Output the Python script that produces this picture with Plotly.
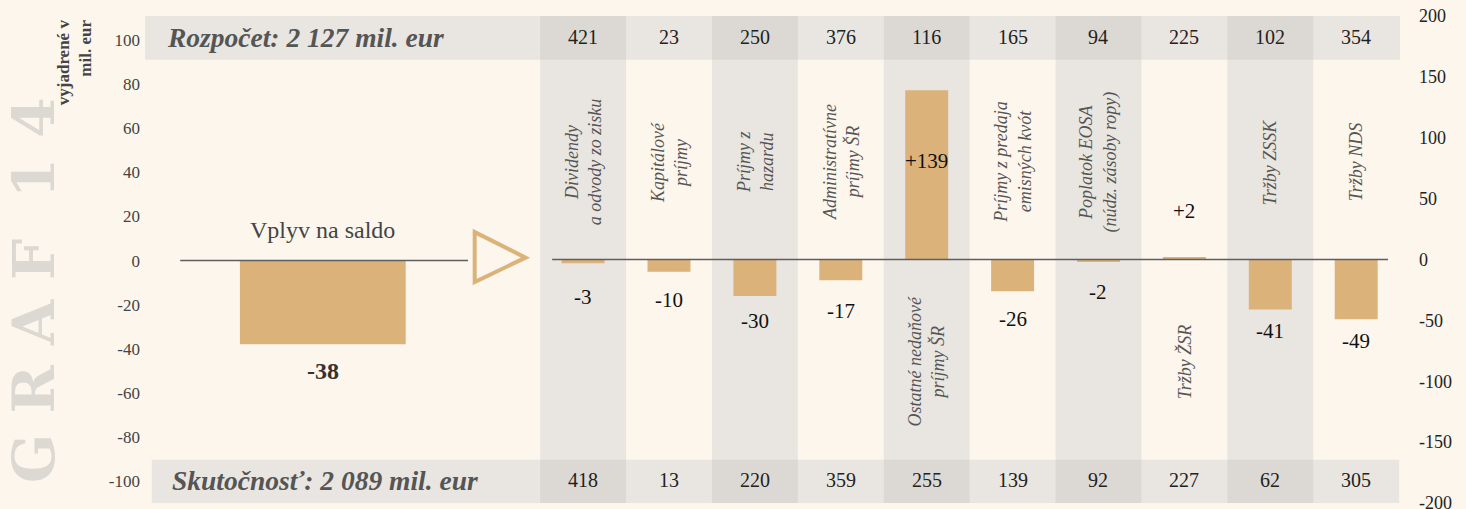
import plotly.graph_objects as go

# ---------------- data ----------------
categories = [
    "Dividendy<br>a odvody zo zisku",
    "Kapitálové<br>príjmy",
    "Príjmy z<br>hazardu",
    "Administratívne<br>príjmy ŠR",
    "Ostatné nedaňové<br>príjmy ŠR",
    "Príjmy z predaja<br>emisných kvót",
    "Poplatok EOSA<br>(núdz. zásoby ropy)",
    "Tržby ŽSR",
    "Tržby ZSSK",
    "Tržby NDS",
]
budget = [421, 23, 250, 376, 116, 165, 94, 225, 102, 354]
actual = [418, 13, 220, 359, 255, 139, 92, 227, 62, 305]
impact = [-3, -10, -30, -17, 139, -26, -2, 2, -41, -49]
saldo_value = -38
budget_title = "Rozpočet: 2 127 mil. eur"
actual_title = "Skutočnosť: 2 089 mil. eur"
saldo_label = "Vplyv na saldo"
left_ticks = [-100, -80, -60, -40, -20, 0, 20, 40, 60, 80, 100]
right_ticks = [-200, -150, -100, -50, 0, 50, 100, 150, 200]

# ---------------- style / layout constants ----------------
BG = "#FCF6ED"
SHADE = "#E9E5E0"
SHADE_DARK = "#DCD9D4"
BAR = "#DBB279"
FONT = "Liberation Serif"
SALDO_X = -3.03
SALDO_W = 1.93
X_RANGE = [-5.10, 9.51]
LABEL_PX = [34, 28, 25, 31, 71, 28, 30, -46, 22, 22]  # px below bar end (pos = down)

x_pos = list(range(len(categories)))

fig = go.Figure()

fig.add_trace(go.Bar(
    x=[SALDO_X], y=[saldo_value], width=[SALDO_W],
    marker=dict(color=BAR, line=dict(width=0)), yaxis="y",
    hoverinfo="skip", showlegend=False,
))
fig.add_trace(go.Bar(
    x=x_pos, y=impact, width=0.5,
    marker=dict(color=BAR, line=dict(width=0)), yaxis="y2",
    hoverinfo="skip", showlegend=False,
))

shapes = []
for i in x_pos:
    if i % 2 == 0:
        shapes.append(dict(type="rect", xref="x", yref="paper", x0=i - 0.5, x1=i + 0.5,
                           y0=0, y1=1, fillcolor=SHADE, line_width=0, layer="below"))
shapes.append(dict(type="rect", xref="paper", yref="y2", x0=0, x1=1, y0=164, y1=200,
                   fillcolor=SHADE, line_width=0, layer="below"))
shapes.append(dict(type="rect", xref="x", yref="y2", x0=-5.02, x1=9.5, y0=-200, y1=-164.5,
                   fillcolor=SHADE, line_width=0, layer="below"))
for i in x_pos:
    if i % 2 == 0:
        shapes.append(dict(type="rect", xref="x", yref="y2", x0=i - 0.5, x1=i + 0.5,
                           y0=164, y1=200, fillcolor=SHADE_DARK, line_width=0, layer="below"))
        shapes.append(dict(type="rect", xref="x", yref="y2", x0=i - 0.5, x1=i + 0.5,
                           y0=-200, y1=-164.5, fillcolor=SHADE_DARK, line_width=0, layer="below"))
shapes.append(dict(type="line", xref="x", yref="y", x0=-4.69, x1=-1.34, y0=0, y1=0,
                   line=dict(color="#5E5E5E", width=1.5)))
shapes.append(dict(type="line", xref="x", yref="y2", x0=-0.36, x1=9.37, y0=0, y1=0,
                   line=dict(color="#5E5E5E", width=1.5)))
shapes.append(dict(type="path", xref="x", yref="y2",
                   path="M -1.262,22.5 L -1.262,-18.5 L -0.67,1.5 Z",
                   line=dict(color=BAR, width=4), fillcolor="rgba(0,0,0,0)"))

ann = []
ann.append(dict(x=-4.87, y=182.5, xref="x", yref="y2", text="<b><i>%s</i></b>" % budget_title,
                xanchor="left", yanchor="middle", showarrow=False,
                font=dict(family=FONT, size=27.5, color="#555555")))
ann.append(dict(x=-4.81, y=-181.5, xref="x", yref="y2", text="<b><i>%s</i></b>" % actual_title,
                xanchor="left", yanchor="middle", showarrow=False,
                font=dict(family=FONT, size=27.5, color="#555555")))
for i, (b, a) in enumerate(zip(budget, actual)):
    ann.append(dict(x=i, y=183, xref="x", yref="y2", text=str(b), showarrow=False,
                    xanchor="center", yanchor="middle",
                    font=dict(family=FONT, size=20, color="#222222")))
    ann.append(dict(x=i, y=-181, xref="x", yref="y2", text=str(a), showarrow=False,
                    xanchor="center", yanchor="middle",
                    font=dict(family=FONT, size=20, color="#222222")))
for i, (v, c) in enumerate(zip(impact, categories)):
    txt = ("+%d" % v) if v > 0 else str(v)
    ann.append(dict(x=i, y=v, xref="x", yref="y2", text=txt, showarrow=False,
                    xanchor="center", yanchor="middle", yshift=-LABEL_PX[i],
                    font=dict(family=FONT, size=21, color="#111111")))
    ann.append(dict(x=i, y=(-84 if v > 0 else 80), xref="x", yref="y2", text="<i>%s</i>" % c,
                    showarrow=False, textangle=-90, xanchor="center", yanchor="middle",
                    font=dict(family=FONT, size=18, color="#555555")))
ann.append(dict(x=SALDO_X, y=14, xref="x", yref="y", text=saldo_label, showarrow=False,
                xanchor="center", yanchor="middle",
                font=dict(family=FONT, size=24, color="#444444")))
ann.append(dict(x=SALDO_X, y=saldo_value, xref="x", yref="y", text="<b>%d</b>" % saldo_value,
                showarrow=False, xanchor="center", yanchor="middle", yshift=-27,
                font=dict(family=FONT, size=24, color="#333333")))
ann.append(dict(x=-0.0884, y=0.437, xref="paper", yref="paper",
                text="<b>G R A F\u00a0 1 4</b>", showarrow=False, textangle=-90,
                xanchor="center", yanchor="middle",
                font=dict(family="DejaVu Serif", size=58, color="#DCD8D2")))
ann.append(dict(x=-0.0566, y=0.905, xref="paper", yref="paper",
                text="<b>vyjadrené v<br>mil. eur</b>", showarrow=False, textangle=-90,
                align="right", xanchor="center", yanchor="middle",
                font=dict(family=FONT, size=17, color="#444444")))

fig.update_layout(
    width=1466, height=509,
    margin=dict(l=145, r=66, t=16, b=6, autoexpand=False),
    paper_bgcolor=BG, plot_bgcolor=BG,
    barmode="overlay", showlegend=False,
    shapes=shapes, annotations=ann,
    xaxis=dict(range=X_RANGE, visible=False, fixedrange=True, automargin=False),
    yaxis=dict(range=[-110, 111], tickvals=left_ticks, ticktext=[str(t) for t in left_ticks],
               showgrid=False, zeroline=False, showline=False, ticks="", ticklabelstandoff=4,
               ticklabeloverflow="allow", automargin=False,
               tickfont=dict(family=FONT, size=17, color="#444444")),
    yaxis2=dict(range=[-200, 200], tickvals=right_ticks, ticktext=[str(t) for t in right_ticks],
                overlaying="y", side="right",
                showgrid=False, zeroline=False, showline=False, ticks="",
                ticklabelstandoff=18, ticklabeloverflow="allow", automargin=False,
                tickfont=dict(family=FONT, size=18, color="#222222")),
)

fig.write_html(
    "out.html",
    config={"displayModeBar": False},
    post_script="document.body.style.margin='0';document.body.style.background='%s';" % BG,
)
